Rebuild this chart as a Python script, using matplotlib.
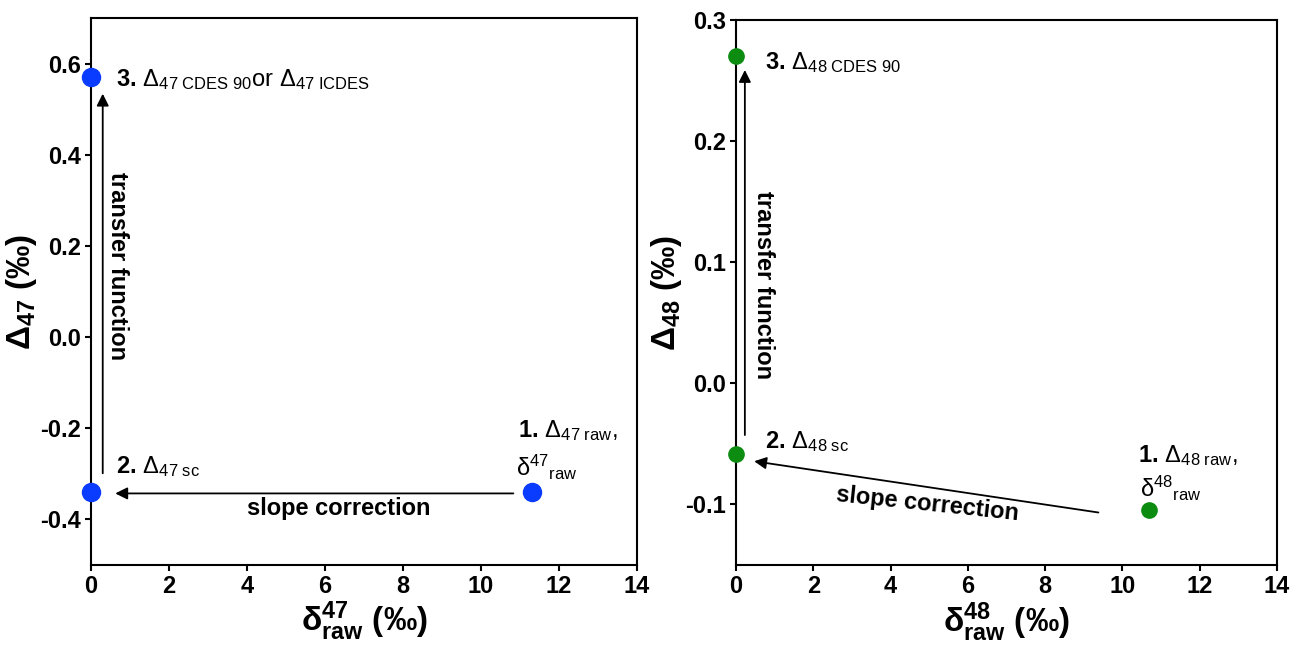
import matplotlib
matplotlib.use("Agg")
import matplotlib.pyplot as plt

plt.rcParams.update({
    'font.family': ['Liberation Sans', 'DejaVu Sans'],
    'mathtext.fontset': 'custom',
    'mathtext.rm': 'Liberation Sans',
    'mathtext.it': 'Liberation Sans:italic',
    'mathtext.bf': 'Liberation Sans:bold',
    'mathtext.sf': 'Liberation Sans',
})

# Data
d47_x = [11.3, 0.0, 0.0]
D47_y = [-0.34, -0.34, 0.57]
d48_x = [10.7, 0.0, 0.0]
D48_y = [-0.105, -0.058, 0.27]

left_xticks = [0, 2, 4, 6, 8, 10, 12, 14]
left_yticks = [-0.4, -0.2, 0.0, 0.2, 0.4, 0.6]
right_yticks = [-0.1, 0.0, 0.1, 0.2, 0.3]

blue = '#0a3cff'
green = '#0c8c10'

fig = plt.figure(figsize=(12.93, 6.46), dpi=100)
ax1 = fig.add_axes([0.0704, 0.1254, 0.4223, 0.8468])
ax2 = fig.add_axes([0.5692, 0.1254, 0.4184, 0.8437])

def style(ax, yticks, ylim, yfmt):
    ax.set_xlim(0, 14)
    ax.set_ylim(*ylim)
    ax.set_xticks(left_xticks)
    ax.set_yticks(yticks)
    ax.set_xticklabels([str(t) for t in left_xticks], fontsize=17, fontweight='bold')
    ax.set_yticklabels([yfmt.format(t) for t in yticks], fontsize=17, fontweight='bold')
    ax.tick_params(direction='out', length=4, width=1.5, pad=3, top=False, right=False)
    for s in ax.spines.values():
        s.set_linewidth(1.5)

style(ax1, left_yticks, (-0.5, 0.7), '{:.1f}')
style(ax2, right_yticks, (-0.15, 0.3), '{:.1f}')

FS = 17
LFS = 24
# Left panel
ax1.plot(d47_x, D47_y, 'o', color=blue, markersize=13, clip_on=False, zorder=5)
ax1.annotate('', xy=(0.55, -0.343), xytext=(10.9, -0.343),
             arrowprops=dict(arrowstyle='-|>', color='black', lw=1.3, mutation_scale=18))
ax1.annotate('', xy=(0.3, 0.54), xytext=(0.3, -0.305),
             arrowprops=dict(arrowstyle='-|>', color='black', lw=1.3, mutation_scale=18))
ax1.text(6.35, -0.375, 'slope correction', fontsize=FS, fontweight='bold', ha='center', va='center')
ax1.text(0.67, 0.155, 'transfer function', fontsize=FS, fontweight='bold', ha='center', va='center', rotation=-90)
ax1.text(0.65, 0.565, r'$\mathbf{3.}\,\Delta_{\mathrm{47\ CDES\ 90}}$' + 'or ' + r'$\Delta_{\mathrm{47\ ICDES}}$',
         fontsize=FS, ha='left', va='center')
ax1.text(0.65, -0.285, r'$\mathbf{2.}\,\Delta_{\mathrm{47\ sc}}$', fontsize=FS, ha='left', va='center')
ax1.text(10.95, -0.205, r'$\mathbf{1.}\,\Delta_{\mathrm{47\ raw}}$,', fontsize=FS, ha='left', va='center')
ax1.text(10.9, -0.285, r'$\mathrm{\delta}^{\mathrm{47}}{}_{\mathrm{raw}}$', fontsize=FS, ha='left', va='center')
ax1.set_xlabel(r'$\mathbf{\delta^{47}_{raw}}$ (‰)', fontsize=LFS, fontweight='bold', labelpad=1)
ax1.set_ylabel(r'$\mathbf{\Delta_{47}}$ (‰)', fontsize=LFS, fontweight='bold', labelpad=1)

# Right panel
ax2.plot(d48_x, D48_y, 'o', color=green, markersize=11, clip_on=False, zorder=5)
ax2.annotate('', xy=(0.4, -0.064), xytext=(9.45, -0.107),
             arrowprops=dict(arrowstyle='-|>', color='black', lw=1.3, mutation_scale=18))
ax2.annotate('', xy=(0.23, 0.261), xytext=(0.23, -0.045),
             arrowprops=dict(arrowstyle='-|>', color='black', lw=1.3, mutation_scale=18))
ax2.text(4.95, -0.1, 'slope correction', fontsize=FS, fontweight='bold', ha='center', va='center', rotation=-6)
ax2.text(0.7, 0.081, 'transfer function', fontsize=FS, fontweight='bold', ha='center', va='center', rotation=-90)
ax2.text(0.75, 0.265, r'$\mathbf{3.}\,\Delta_{\mathrm{48\ CDES\ 90}}$', fontsize=FS, ha='left', va='center')
ax2.text(0.75, -0.048, r'$\mathbf{2.}\,\Delta_{\mathrm{48\ sc}}$', fontsize=FS, ha='left', va='center')
ax2.text(10.4, -0.06, r'$\mathbf{1.}\,\Delta_{\mathrm{48\ raw}}$,', fontsize=FS, ha='left', va='center')
ax2.text(10.45, -0.087, r'$\mathrm{\delta}^{\mathrm{48}}{}_{\mathrm{raw}}$', fontsize=FS, ha='left', va='center')
ax2.set_xlabel(r'$\mathbf{\delta^{48}_{raw}}$ (‰)', fontsize=LFS, fontweight='bold', labelpad=2)
ax2.set_ylabel(r'$\mathbf{\Delta_{48}}$ (‰)', fontsize=LFS, fontweight='bold', labelpad=1)

fig.savefig('out.png', dpi=100)
